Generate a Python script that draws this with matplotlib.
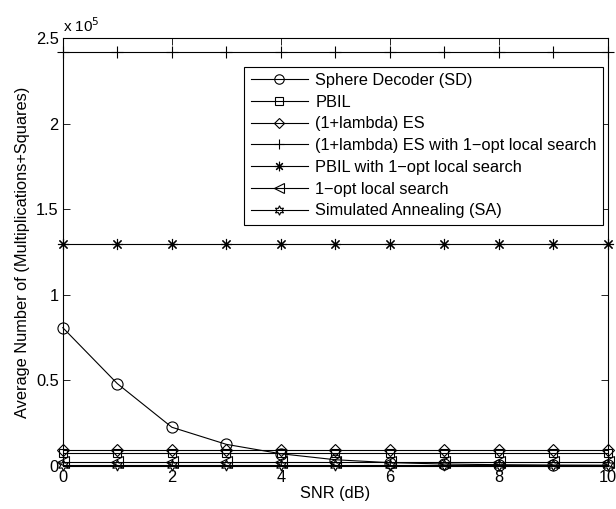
import matplotlib
matplotlib.use("Agg")
import matplotlib.pyplot as plt
import numpy as np
from matplotlib.ticker import FuncFormatter

plt.rcParams['font.family'] = ['Liberation Sans', 'DejaVu Sans']

snr = [0, 1, 2, 3, 4, 5, 6, 7, 8, 9, 10]

sd = [80700, 48000, 22500, 12500, 7000, 3500, 1800, 1000, 600, 400, 300]
pbil = [7200] * 11
es = [9400] * 11
es_1opt = [242000] * 11
pbil_1opt = [129500] * 11
opt1 = [2300] * 11
sa = [600] * 11

labels = ['Sphere Decoder (SD)', 'PBIL', '(1+lambda) ES',
          '(1+lambda) ES with 1\u2212opt local search',
          'PBIL with 1\u2212opt local search', '1\u2212opt local search',
          'Simulated Annealing (SA)']

fs = 11.8
fig = plt.figure(figsize=(6.16, 5.09), dpi=100)
ax = fig.add_axes([0.102, 0.085, 0.885, 0.840])

series = [sd, pbil, es, es_1opt, pbil_1opt, opt1, sa]
markers = ['o', 's', 'D', '+', (8, 2, 0), '<', (6, 1, 0)]
sizes = [8, 6, 6, 9, 8, 8, 8]
for ys, m, s, lab in zip(series, markers, sizes, labels):
    ax.plot(snr, ys, color='black', lw=0.8, marker=m, markersize=s,
            markerfacecolor='none', markeredgecolor='black', markeredgewidth=0.8,
            label=lab, clip_on=False)

ax.set_xlim(0, 10)
ax.set_ylim(0, 2.5e5)
ax.set_xticks([0, 2, 4, 6, 8, 10])
ax.set_yticks(np.arange(0, 2.51e5, 0.5e5))
ax.yaxis.set_major_formatter(FuncFormatter(lambda v, p: '%g' % (v / 1e5)))
ax.tick_params(direction='in', top=True, right=True, labelsize=fs, length=5, width=0.6, pad=3)
for sp in ax.spines.values():
    sp.set_linewidth(0.8)

ax.set_xlabel('SNR (dB)', fontsize=fs, labelpad=1)
ax.set_ylabel('Average Number of (Multiplications+Squares)', fontsize=fs, labelpad=4)
ax.text(0.0, 1.008, 'x 10$^{5}$', transform=ax.transAxes, fontsize=fs - 0.8, ha='left', va='bottom')

leg = ax.legend(loc='upper right', bbox_to_anchor=(0.991, 0.933), fontsize=fs,
                frameon=True, fancybox=False, framealpha=1, edgecolor='black',
                handlelength=3.5, labelspacing=0.41, borderpad=0.38, handletextpad=0.45,
                borderaxespad=0.0, markerscale=0.85)
leg.get_frame().set_linewidth(0.8)

fig.savefig('out.png', dpi=100)
